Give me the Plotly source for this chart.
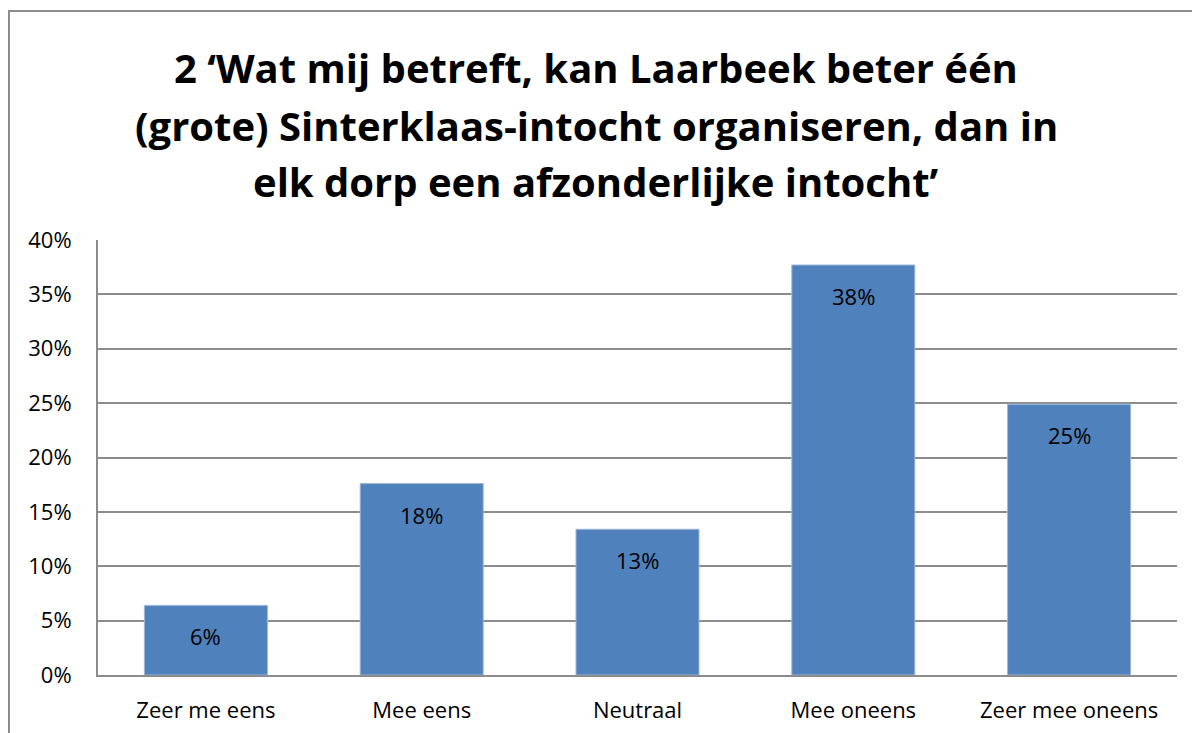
import plotly.graph_objects as go

categories = ["Zeer me eens", "Mee eens", "Neutraal", "Mee oneens", "Zeer mee oneens"]
values = [0.064, 0.176, 0.134, 0.377, 0.249]
y_ticks = [0, 0.05, 0.10, 0.15, 0.20, 0.25, 0.30, 0.35, 0.40]
title_lines = [
    "2 \u2018Wat mij betreft, kan Laarbeek beter één",
    "(grote) Sinterklaas-intocht organiseren, dan in",
    "elk dorp een afzonderlijke intocht\u2019",
]

W, H = 1192, 733
L, R, T, B = 98, 15, 240, 58
plot_h = H - T - B
FONT = "Open Sans"

def py(p):
    return (H - B - p) / plot_h

fig = go.Figure(go.Bar(
    x=categories, y=values,
    marker=dict(color="#4F81BD", line=dict(color="#9DB7D9", width=1)),
    width=0.57,
    hoverinfo="x+y",
))

annotations = []
for line, yp in zip(title_lines, [68, 125, 181]):
    annotations.append(dict(
        text=line, xref="paper", yref="paper", x=(596 - L) / (W - L - R), y=py(yp),
        xanchor="center", yanchor="middle", showarrow=False,
        font=dict(family=FONT, size=40, color="#000000", weight="bold"),
    ))
for c, v in zip(categories, values):
    annotations.append(dict(
        text=f"{round(v * 100):.0f}%", x=c, y=v, xref="x", yref="y",
        xanchor="center", yanchor="middle", yshift=-31, showarrow=False,
        font=dict(family=FONT, size=22, color="#000000"),
    ))

fig.update_layout(
    width=W, height=H,
    margin=dict(l=L, r=R, t=T, b=B, pad=0),
    paper_bgcolor="white", plot_bgcolor="white",
    showlegend=False,
    annotations=annotations,
    shapes=[dict(type="rect", xref="paper", yref="paper",
                 x0=(9 - L) / (W - L - R), x1=1.2, y0=-0.5, y1=py(11),
                 line=dict(color="#8C8C8C", width=2), layer="below")],
    font=dict(family=FONT, size=22, color="#000000"),
)
fig.update_xaxes(
    showgrid=False, showline=True, linecolor="#8C8C8C", linewidth=2,
    ticks="", tickfont=dict(family=FONT, size=22, color="#000000"),
    ticklabelstandoff=15, automargin=False,
)
fig.update_yaxes(
    range=[0, 0.40], tickvals=y_ticks, tickformat=".0%",
    showgrid=True, gridcolor="#8C8C8C", gridwidth=2,
    showline=True, linecolor="#8C8C8C", linewidth=2,
    zeroline=False, ticks="",
    tickfont=dict(family=FONT, size=22, color="#000000"),
    ticklabelstandoff=20, automargin=False,
)
fig.write_html("out.html", config={"displayModeBar": False},
               post_script="document.body.style.margin='0';")
